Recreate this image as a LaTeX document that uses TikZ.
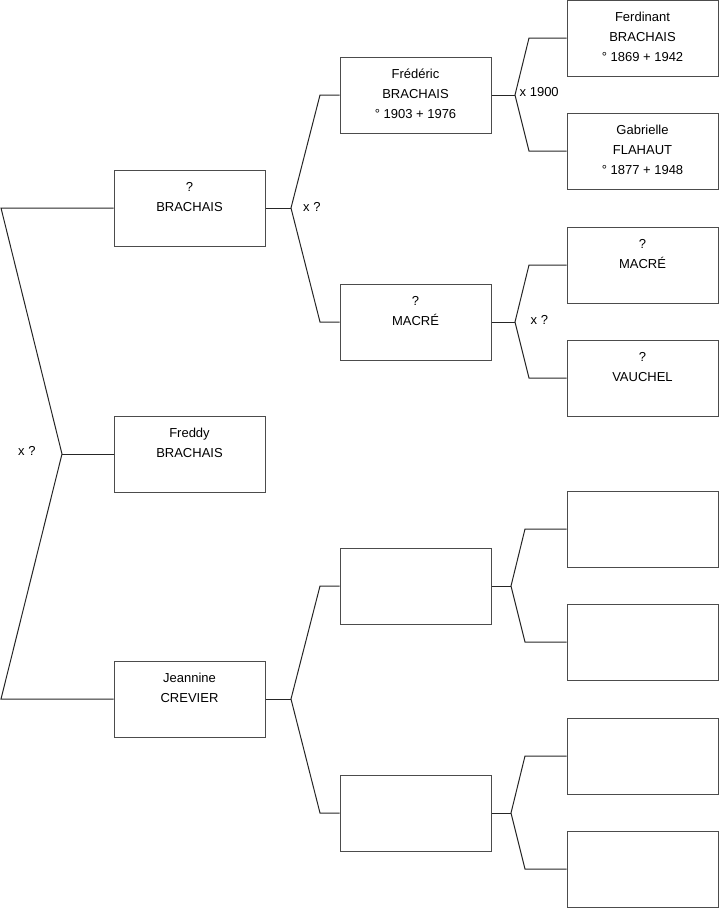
\documentclass[tikz,border=0pt]{standalone}
\usepackage{fontspec}
\setmainfont{Liberation Sans}
\newcommand\ptxt[3]{#1\\#2\\#3\rule[-3pt]{0pt}{0pt}}
\begin{document}
\begin{tikzpicture}[x=1pt,y=-1pt,
  person/.style={draw=black!70,line width=1pt,minimum width=151pt,minimum height=76pt,
    inner sep=0pt,align=center,font=\fontsize{13}{20}\selectfont},
  link/.style={draw=black!85,line width=1pt},
  lbl/.style={inner sep=0pt,font=\fontsize{13}{15}\selectfont,anchor=west}]
\useasboundingbox (0,0) rectangle (719,908);
% column 1
\node[person] (p1) at (189.5,208) {\ptxt{?}{BRACHAIS}{~}};
\node[person] (p0) at (189.5,454) {\ptxt{Freddy}{BRACHAIS}{~}};
\node[person] (p2) at (189.5,699) {\ptxt{Jeannine}{CREVIER}{~}};
% column 2
\node[person] (p3) at (415.5,95) {\ptxt{Frédéric}{BRACHAIS}{° 1903 + 1976}};
\node[person] (p4) at (415.5,322) {\ptxt{?}{MACRÉ}{~}};
\node[person] (p5) at (415.5,586) {};
\node[person] (p6) at (415.5,813) {};
% column 3
\node[person] (p7) at (642.5,38) {\ptxt{Ferdinant}{BRACHAIS}{° 1869 + 1942}};
\node[person] (p8) at (642.5,151) {\ptxt{Gabrielle}{FLAHAUT}{° 1877 + 1948}};
\node[person] (p9) at (642.5,265) {\ptxt{?}{MACRÉ}{~}};
\node[person] (p10) at (642.5,378) {\ptxt{?}{VAUCHEL}{~}};
\node[person] (p11) at (642.5,529) {};
\node[person] (p12) at (642.5,642) {};
\node[person] (p13) at (642.5,756) {};
\node[person] (p14) at (642.5,869) {};
% root fork
\coordinate (r1) at (1,208);
\coordinate (r0) at (62,454);
\coordinate (r2) at (1,699);
\draw[link] (p1.west) -- (r1) -- (r0) -- (r2) -- (p2.west);
\draw[link] (r0) -- (p0.west);
\node[lbl] (l0) at (18,451) {x ?};
% fork of p1
\coordinate (f1) at (291,208);
\coordinate (f1a) at (320,95);
\coordinate (f1b) at (320,322);
\draw[link] (p1.east) -- (f1);
\draw[link] (p3.west) -- (f1a) -- (f1) -- (f1b) -- (p4.west);
\node[lbl] (l1) at (303,207) {x ?};
% fork of p2
\coordinate (f2) at (291,699);
\coordinate (f2a) at (320,586);
\coordinate (f2b) at (320,813);
\draw[link] (p2.east) -- (f2);
\draw[link] (p5.west) -- (f2a) -- (f2) -- (f2b) -- (p6.west);
% fork of p3
\coordinate (f3) at (515,95);
\coordinate (f3a) at (529,38);
\coordinate (f3b) at (529,151);
\draw[link] (p3.east) -- (f3);
\draw[link] (p7.west) -- (f3a) -- (f3) -- (f3b) -- (p8.west);
\node[lbl] (l3) at (519.5,92) {x 1900};
% fork of p4
\coordinate (f4) at (515,322);
\coordinate (f4a) at (529,265);
\coordinate (f4b) at (529,378);
\draw[link] (p4.east) -- (f4);
\draw[link] (p9.west) -- (f4a) -- (f4) -- (f4b) -- (p10.west);
\node[lbl] (l4) at (530.5,320) {x ?};
% fork of p5
\coordinate (f5) at (511,586);
\coordinate (f5a) at (525,529);
\coordinate (f5b) at (525,642);
\draw[link] (p5.east) -- (f5);
\draw[link] (p11.west) -- (f5a) -- (f5) -- (f5b) -- (p12.west);
% fork of p6
\coordinate (f6) at (511,813);
\coordinate (f6a) at (525,756);
\coordinate (f6b) at (525,869);
\draw[link] (p6.east) -- (f6);
\draw[link] (p13.west) -- (f6a) -- (f6) -- (f6b) -- (p14.west);
\end{tikzpicture}
\end{document}
